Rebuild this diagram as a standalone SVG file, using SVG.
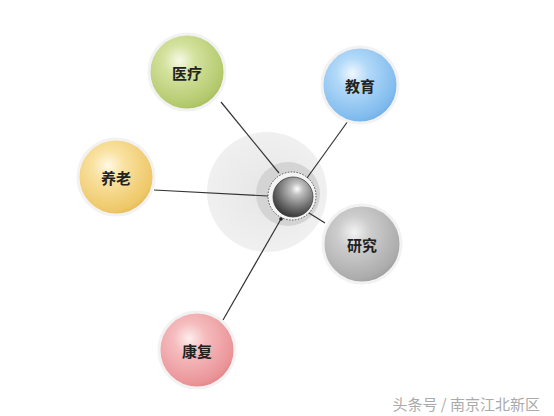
<svg xmlns="http://www.w3.org/2000/svg" width="554" height="416" viewBox="0 0 554 416">
<defs>
<radialGradient id="gGreen" cx="0.4" cy="0.35" r="0.7"><stop offset="0" stop-color="#f6f9e6"/><stop offset="0.3" stop-color="#d4e29e"/><stop offset="0.85" stop-color="#b3c96c"/><stop offset="1" stop-color="#a3bb5c"/></radialGradient>
<radialGradient id="gBlue" cx="0.4" cy="0.35" r="0.7"><stop offset="0" stop-color="#f0f8ff"/><stop offset="0.3" stop-color="#b2d9f8"/><stop offset="0.85" stop-color="#80bbee"/><stop offset="1" stop-color="#6eaae2"/></radialGradient>
<radialGradient id="gYellow" cx="0.4" cy="0.35" r="0.7"><stop offset="0" stop-color="#fff9e4"/><stop offset="0.3" stop-color="#f9e1a0"/><stop offset="0.85" stop-color="#eec868"/><stop offset="1" stop-color="#e0b653"/></radialGradient>
<radialGradient id="gGray" cx="0.4" cy="0.35" r="0.7"><stop offset="0" stop-color="#f3f3f3"/><stop offset="0.3" stop-color="#cdcdcd"/><stop offset="0.85" stop-color="#acacac"/><stop offset="1" stop-color="#999999"/></radialGradient>
<radialGradient id="gPink" cx="0.4" cy="0.35" r="0.7"><stop offset="0" stop-color="#fdeded"/><stop offset="0.3" stop-color="#f5bcbe"/><stop offset="0.85" stop-color="#ea9498"/><stop offset="1" stop-color="#dc8286"/></radialGradient>
<radialGradient id="gCore" cx="0.6" cy="0.3" r="0.75"><stop offset="0" stop-color="#ffffff"/><stop offset="0.2" stop-color="#c0c0c0"/><stop offset="0.6" stop-color="#747474"/><stop offset="1" stop-color="#2e2e2e"/></radialGradient>
<radialGradient id="gHalo" cx="0.5" cy="0.5" r="0.5"><stop offset="0" stop-color="#e6e6e6"/><stop offset="1" stop-color="#f0f0f0"/></radialGradient>
</defs>
<style>
.ball{stroke:#f2f2f2;stroke-width:3}
.lbl{font-family:"Noto Sans CJK SC","Noto Sans",sans-serif;font-size:15px;font-weight:bold;fill:#222;text-anchor:middle}
.ln{stroke:#333;stroke-width:1.2;fill:none}
</style>
<rect width="554" height="416" fill="#ffffff"/>
<g id="hub">
<circle cx="267" cy="192" r="60" fill="url(#gHalo)"/>
<circle cx="288" cy="194" r="32" fill="#d4d4d4"/>
<circle cx="292" cy="196" r="24" fill="#f4f4f4" stroke="#555" stroke-width="1" stroke-dasharray="1.5 1.5"/>
<circle cx="293" cy="197" r="20" fill="url(#gCore)" stroke="#444" stroke-width="0.8"/>
</g>
<g id="connectors">
<line class="ln" x1="221" y1="102" x2="279" y2="173"/>
<line class="ln" x1="348" y1="121" x2="307" y2="178"/>
<line class="ln" x1="154" y1="190" x2="268" y2="196"/>
<line class="ln" x1="309" y1="213" x2="325" y2="223"/>
<line class="ln" x1="223" y1="320" x2="281" y2="219"/>
<circle cx="281" cy="219" r="1.8" fill="#222"/>
</g>
<g id="n-yiliao"><circle class="ball" cx="187" cy="72" r="38" fill="url(#gGreen)"/><text class="lbl" x="187" y="79">医疗</text></g>
<g id="n-jiaoyu"><circle class="ball" cx="360" cy="85" r="38" fill="url(#gBlue)"/><text class="lbl" x="360" y="92">教育</text></g>
<g id="n-yanglao"><circle class="ball" cx="116" cy="177" r="38" fill="url(#gYellow)"/><text class="lbl" x="116" y="184">养老</text></g>
<g id="n-yanjiu"><circle class="ball" cx="362" cy="244" r="39" fill="url(#gGray)"/><text class="lbl" x="362" y="251">研究</text></g>
<g id="n-kangfu"><circle class="ball" cx="197" cy="350" r="38" fill="url(#gPink)"/><text class="lbl" x="197" y="357">康复</text></g>
<text x="540" y="410" text-anchor="end" font-family="Noto Sans CJK SC,sans-serif" font-size="15" fill="#aaaaaa">头条号 / 南京江北新区</text>
</svg>
